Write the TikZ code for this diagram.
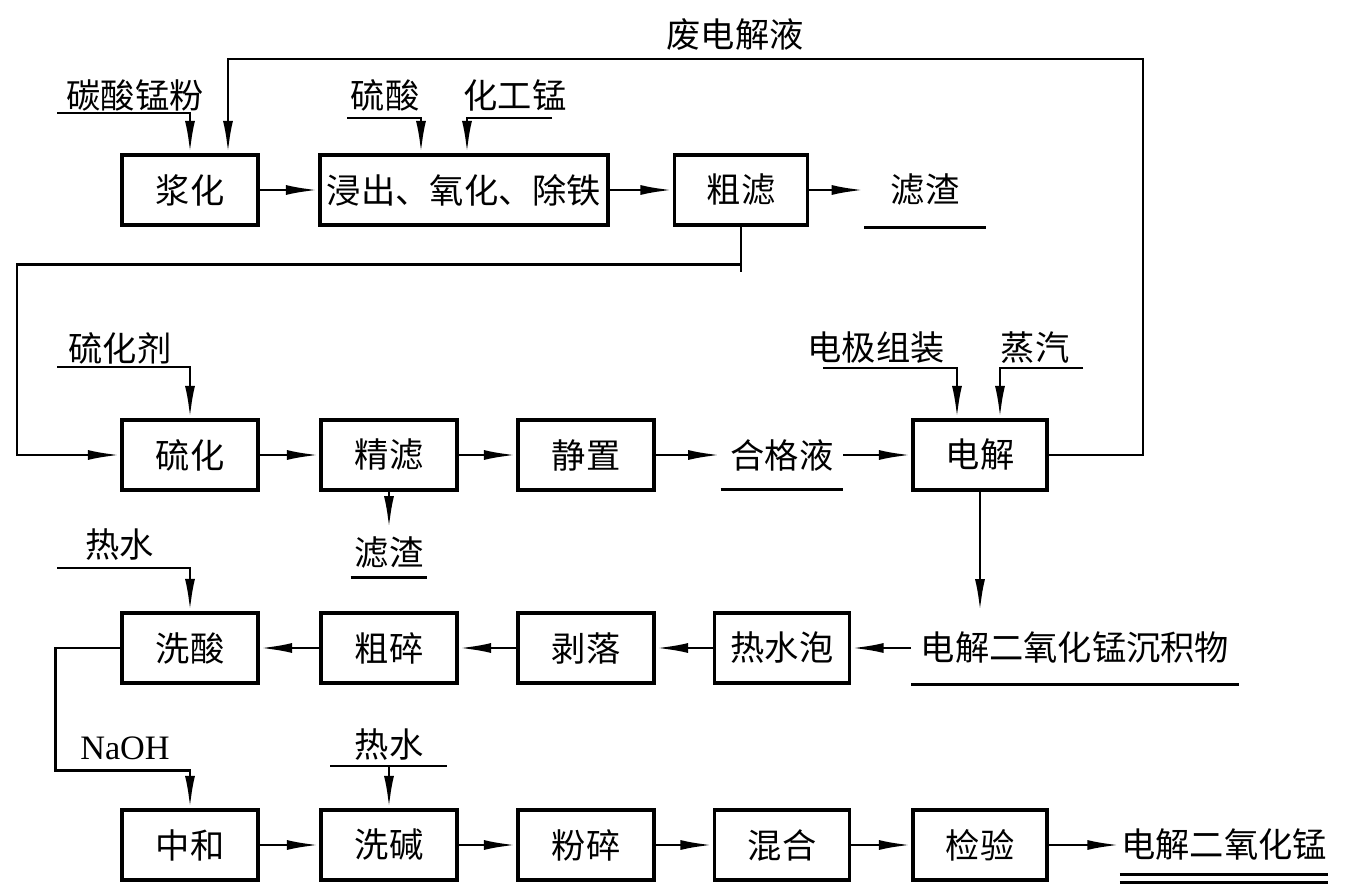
\documentclass[tikz,border=0pt]{standalone}
\usepackage{fontspec}
\setmainfont{Noto Sans CJK SC}
\newfontfamily\latin{Liberation Serif}
\usetikzlibrary{calc, arrows.meta}

\begin{document}
\begin{tikzpicture}[x=0.02cm,y=-0.02cm,->,>={Latex[length=6.5mm,width=2mm]},line width=1.6pt,
every node/.style={font=\fontsize{19.5}{22}\selectfont,inner sep=0pt},
box/.style={draw,rectangle,line width=1.9pt,minimum width=2.72cm,minimum height=1.4cm},
uline/.style={minimum width=#1}
%scale=0.7, transform shape
]
\useasboundingbox (0,0) rectangle (1353,896);

% boxes
\node [box] (nA) at (190,190) {浆化};
\node [box,minimum width=5.76cm] (nB) at (464,190) {浸出、氧化、除铁};
\node [box,minimum width=2.66cm] (nC) at (741,190) {粗滤};
\node [box] (nD) at (190,455) {硫化};
\node [box] (nE) at (389,455) {精滤};
\node [box] (nF) at (586,455) {静置};
\node [box,minimum width=2.68cm] (nG) at (980,455) {电解};
\node [box] (nH) at (190,648) {洗酸};
\node [box] (nI) at (389,648) {粗碎};
\node [box] (nJ) at (586,648) {剥落};
\node [box,minimum width=2.7cm] (nK) at (782,648) {热水泡};
\node [box] (nL) at (190,845) {中和};
\node [box] (nM) at (389,845) {洗碱};
\node [box] (nN) at (586,845) {粉碎};
\node [box,minimum width=2.7cm] (nO) at (782,845) {混合};
\node [box,minimum width=2.68cm] (nP) at (980,845) {检验};

% texts
\node (tA) at (135,95) {碳酸锰粉};
\node (tB) at (735,35) {废电解液};
\node (tC) at (385,95) {硫酸};
\node (tD) at (515,95) {化工锰};
\node [uline=2.38cm,minimum height=1.44cm] (tE) at (925,190) {滤渣};
\node (tJ) at (120,348) {硫化剂};
\node [uline=2.4cm,minimum height=1.32cm] (tF) at (782,455) {合格液};
\node (tK) at (876,348) {电极组装};
\node (tL) at (1035,348) {蒸汽};
\node [uline=1.48cm,minimum height=0.92cm] (tG) at (389,553) {滤渣};
\node [uline=6.5cm,minimum height=1.4cm] (tH) at (1075,648) {电解二氧化锰沉积物};
\node (tM) at (120,545) {热水};
\node (tN) at (125,748) {\latin NaOH};
\node (tO) at (389,745) {热水};
\node [uline=4.1cm,minimum height=1.12cm] (tI) at (1224,845) {电解二氧化锰};

% underlines
\draw[-] (tE.south west) -- (tE.south east);
\draw[-] (tF.south west) -- (tF.south east);
\draw[-] (tG.south west) -- (tG.south east);
\draw[-] (tH.south west) -- (tH.south east);
\draw[-] (tI.south west) -- (tI.south east);
\draw[-] ([yshift=-0.16cm]tI.south west) -- ([yshift=-0.16cm]tI.south east);

% feeds
\coordinate (iA) at (57,113);
\coordinate (iC) at (347,118);
\coordinate (iD) at (552,118);
\coordinate (iJ) at (57,367);
\coordinate (iK) at (823,368);
\coordinate (iL) at (1083,368);
\coordinate (iM) at (57,568);
\coordinate (iO) at (330,766);
\coordinate (iP) at (447,766);
\draw (iA) -| (nA.north);
\draw (iC) -| ($(nB.north)+(-43,0)$);
\draw (iD) -| ($(nB.north)+(3,0)$);
\draw (iJ) -| (nD.north);
\draw (iK) -| ($(nG.north)+(-23,0)$);
\draw (iL) -| ($(nG.north)+(20,0)$);
\draw (iM) -| (nH.north);
\draw[-] (iO) -- (iP);
\draw (nM.north |- iO) -- (nM.north);

% spent electrolyte back
\coordinate (cA) at (1143,59);
\draw (nG.east) -| (cA) -| ($(nA.north)+(38,0)$);

% main flow
\draw (nA) -- (nB);
\draw (nB) -- (nC);
\draw (nC) -- (tE);
\draw[-] (nC.south) -- ++(0,45);
\draw ($(nC.south)+(0,38)$) -- ++(-724,0) |- (nD.west);
\draw (nD) -- (nE);
\draw (nE) -- (nF);
\draw (nF) -- (tF);
\draw (tF) -- (nG);
\draw (nE.south) -- (tG.north);
\draw (nG.south) -- (nG.south |- tH.north);
\draw (tH) -- (nK);
\draw (nK) -- (nJ);
\draw (nJ) -- (nI);
\draw (nI) -- (nH);
\draw (nH.west) -- ++(-65,0) |- ($(nL.north)+(0,-38)$) -- (nL.north);
\draw (nL) -- (nM);
\draw (nM) -- (nN);
\draw (nN) -- (nO);
\draw (nO) -- (nP);
\draw (nP) -- (tI);

\end{tikzpicture}
\end{document}
